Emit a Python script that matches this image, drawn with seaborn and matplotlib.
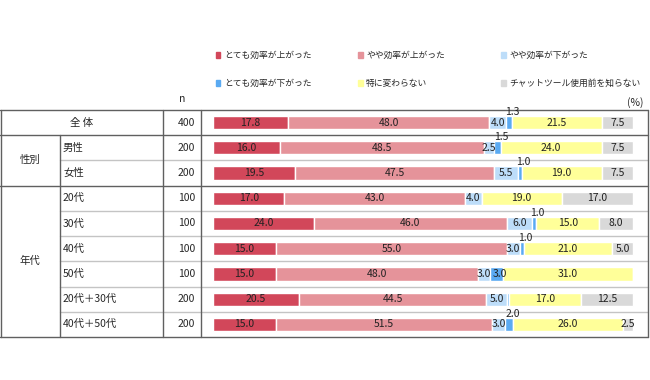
import numpy as np
import pandas as pd
import matplotlib
matplotlib.use("Agg")
import matplotlib.pyplot as plt
from matplotlib.patches import Rectangle
import seaborn as sns

# ----------------------------------------------------------
# Dati
# ----------------------------------------------------------
rows = ["全 体", "男性", "女性", "20代", "30代", "40代", "50代", "20代＋30代", "40代＋50代"]
n_values = [400, 200, 200, 100, 100, 100, 100, 200, 200]
groups = [("性別", 1, 2), ("年代", 3, 8)]

series_names = ["とても効率が上がった", "やや効率が上がった", "やや効率が下がった",
                "とても効率が下がった", "特に変わらない", "チャットツール使用前を知らない"]
very_up = [17.8, 16.0, 19.5, 17.0, 24.0, 15.0, 15.0, 20.5, 15.0]
bit_up = [48.0, 48.5, 47.5, 43.0, 46.0, 55.0, 48.0, 44.5, 51.5]
bit_down = [4.0, 2.5, 5.5, 4.0, 6.0, 3.0, 3.0, 5.0, 3.0]
very_down = [1.3, 1.5, 1.0, 0.0, 1.0, 1.0, 3.0, 0.5, 2.0]
no_change = [21.5, 24.0, 19.0, 19.0, 15.0, 21.0, 31.0, 17.0, 26.0]
unknown = [7.5, 7.5, 7.5, 17.0, 8.0, 5.0, 0.0, 12.5, 2.5]
series_values = [very_up, bit_up, bit_down, very_down, no_change, unknown]
colors = ["#D2475A", "#E5939A", "#BDDDF9", "#5AAAF2", "#FFFF99", "#D9D9D9"]

# ----------------------------------------------------------
# Figura
# ----------------------------------------------------------
sns.set_style("white")
plt.rcParams["font.family"] = ["Noto Sans CJK JP", "DejaVu Sans"]

W, H = 650, 380
fig = plt.figure(figsize=(W / 100, H / 100), dpi=100)
top_px, bot_px = 110, 337
ax = fig.add_axes([0, 1 - bot_px / H, 1, (bot_px - top_px) / H])

x0_px, scale = 213, 4.2  # pixel di 0% e pixel per 1%


def px(p):
    return (p - x0_px) / scale


left = np.zeros(len(rows))
for name, vals, col in zip(series_names, series_values, colors):
    df = pd.DataFrame({"row": rows, "value": vals})
    sns.barplot(data=df, x="value", y="row", order=rows, orient="h",
                left=left.copy(), color=col, saturation=1, width=0.52,
                edgecolor="white", linewidth=1, errorbar=None, ax=ax)
    left += np.array(vals)

ax.set_xlim(px(0), px(W))
ax.set_ylim(len(rows) - 0.5, -0.5)
ax.set_xlabel("")
ax.set_ylabel("")
ax.set_xticks([])
ax.set_yticks([])
for s in ax.spines.values():
    s.set_visible(False)

# etichette dei valori
fs = 7.5
left = np.zeros(len(rows))
for k, vals in enumerate(series_values):
    for i, v in enumerate(vals):
        c = left[i] + v / 2
        if v > 0.5:
            if k == 3 and v <= 2.0:
                ax.text(c + 0.8, i - 0.42, f"{v:.1f}", ha="center", va="center",
                        fontsize=fs, color="#222222", clip_on=False)
            else:
                dx = 0.9 if k == 3 else 0
                ax.text(c + dx, i, f"{v:.1f}", ha="center", va="center",
                        fontsize=fs, color="#222222")
        left[i] += v

# ----------------------------------------------------------
# Tabella
# ----------------------------------------------------------
dark, light = "#606060", "#C4C4C4"
kw = dict(clip_on=False, linewidth=1)
for y in [-0.5, 0.5, 2.5, 8.5]:
    ax.plot([px(0), px(648)], [y, y], color=dark, **kw)
for y in [1.5, 3.5, 4.5, 5.5, 6.5, 7.5]:
    ax.plot([px(60), px(648)], [y, y], color=light, **kw)
for xp in [0.5, 163, 201, 648]:
    ax.plot([px(xp), px(xp)], [-0.5, 8.5], color=dark, **kw)
ax.plot([px(60), px(60)], [0.5, 8.5], color=dark, **kw)

ax.text(px(81.5), 0, rows[0], ha="center", va="center", fontsize=fs)
for i in range(1, len(rows)):
    ax.text(px(63), i, rows[i], ha="left", va="center", fontsize=fs)
for name, a, b in groups:
    ax.text(px(30), (a + b) / 2, name, ha="center", va="center", fontsize=fs)
for i, n in enumerate(n_values):
    ax.text(px(195), i, str(n), ha="right", va="center", fontsize=fs)

ax.text(px(182), -0.92, "n", ha="center", va="center", fontsize=fs, clip_on=False)
ax.text(px(644), -0.8, "(%)", ha="right", va="center", fontsize=fs, clip_on=False)

# ----------------------------------------------------------
# Legenda
# ----------------------------------------------------------
leg_x = [218, 360, 503]
leg_y = [55, 83]
for k, (name, col) in enumerate(zip(series_names, colors)):
    xp, yp = leg_x[k % 3], leg_y[k // 3]
    fig.patches.append(Rectangle(((xp - 2.5) / W, 1 - (yp + 2.5) / H), 5 / W, 5 / H,
                                 transform=fig.transFigure, color=col))
    fig.text((xp + 6) / W, 1 - yp / H, name, ha="left", va="center", fontsize=6.3)

fig.savefig("out.png", dpi=100)
